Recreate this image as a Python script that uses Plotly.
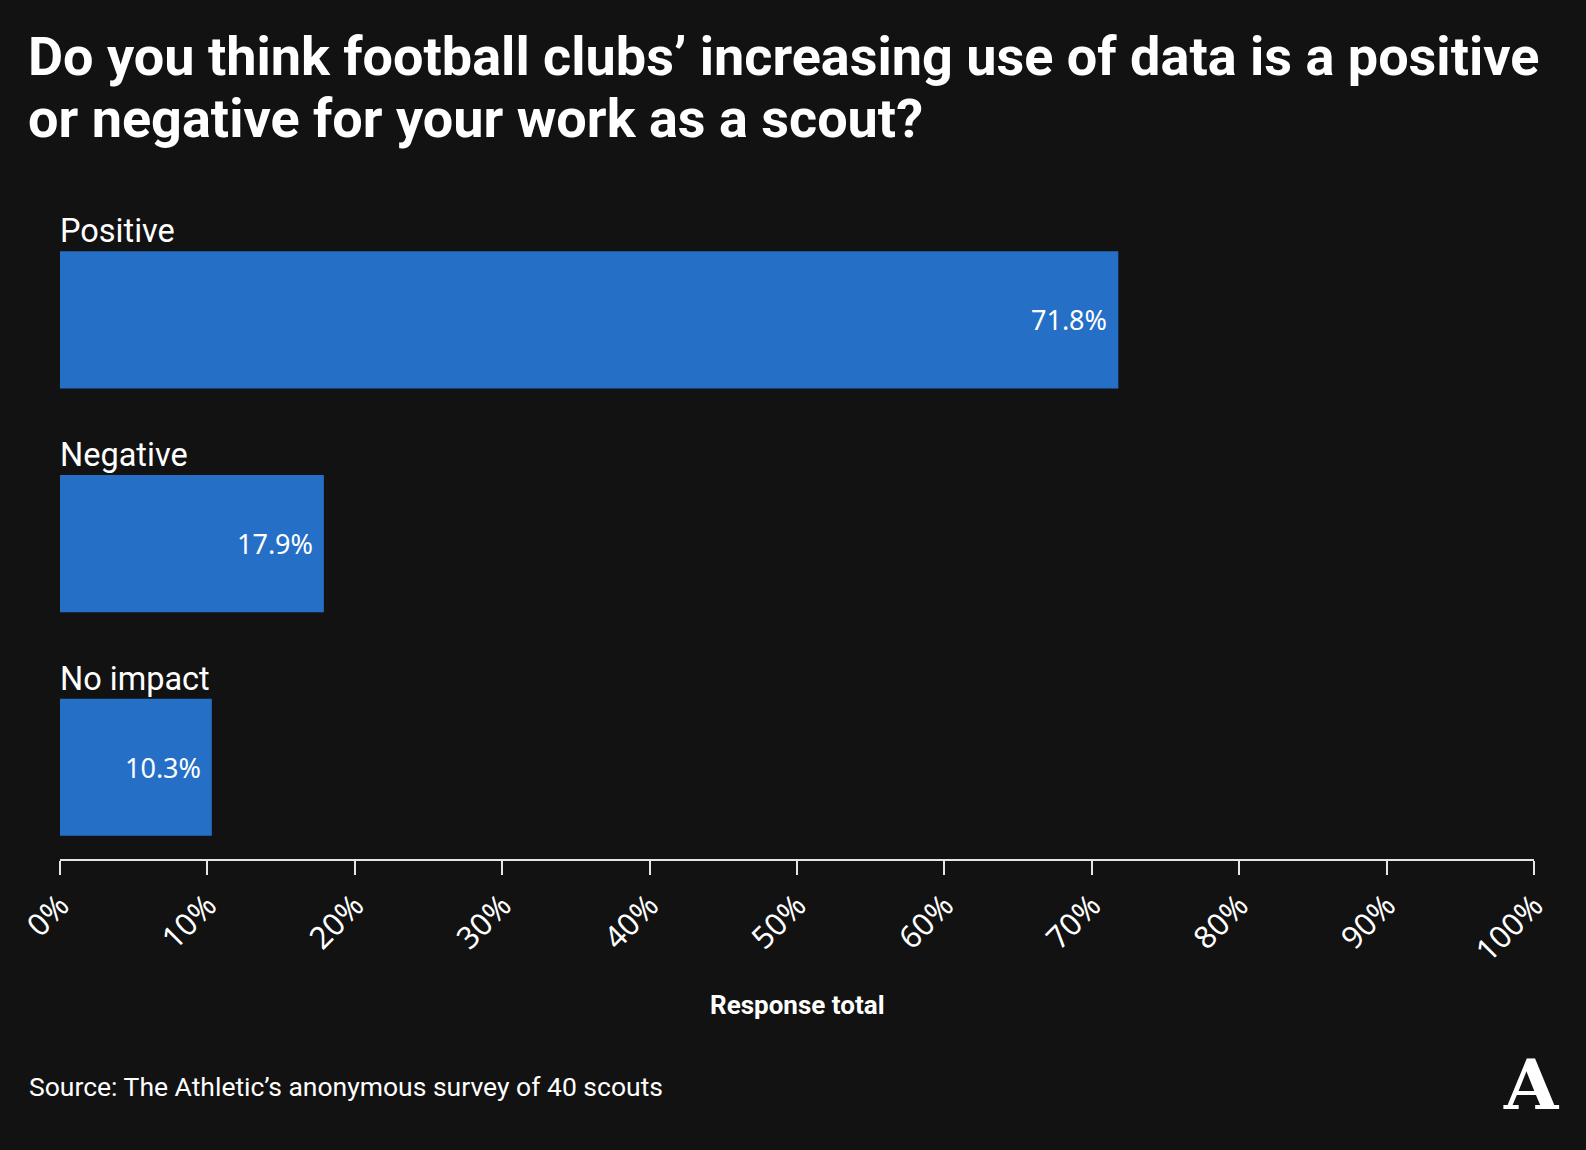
import plotly.graph_objects as go

categories = ["Positive", "Negative", "No impact"]
values = [71.8, 17.9, 10.3]
value_labels = ["71.8%", "17.9%", "10.3%"]
tick_vals = [0, 10, 20, 30, 40, 50, 60, 70, 80, 90, 100]
tick_text = [f"{v}%" for v in tick_vals]

title_lines = ["Do you think football clubs’ increasing use of data is a positive",
               "or negative for your work as a scout?"]
source_text = "Source: The Athletic’s anonymous survey of 40 scouts"
axis_title = "Response total"

BG = "#121212"
BAR = "#256fc6"
W, H = 1586, 1150
ML, MR, MT, MB = 60, 52, 208, 291
PH = H - MT - MB
PW = W - ML - MR


def py(pix):
    return (H - MB - pix) / PH


def px(pix):
    return (pix - ML) / PW


fig = go.Figure()
fig.add_trace(go.Bar(
    x=values, y=categories, orientation="h",
    marker=dict(color=BAR, line=dict(width=0)),
    hoverinfo="skip",
))

BARW = 0.613
annotations = []
for i, (c, v, lab) in enumerate(zip(categories, values, value_labels)):
    annotations.append(dict(
        x=0, y=i - BARW / 2, xref="x", yref="y", text=c, showarrow=False,
        xanchor="left", yanchor="bottom", yshift=-1, xshift=-2,
        font=dict(family="Roboto", size=32.5, color="white"),
    ))
    annotations.append(dict(
        x=v, y=i, xref="x", yref="y", text=lab, showarrow=False,
        xanchor="right", yanchor="middle", xshift=-9,
        font=dict(family="Noto Sans", size=27, color="white"),
    ))

for k, line in enumerate(title_lines):
    annotations.append(dict(
        x=px(26), y=py(23 + 62 * k), xref="paper", yref="paper", text=line,
        showarrow=False, xanchor="left", yanchor="top", align="left",
        font=dict(family="Roboto", size=54, color="white", weight="bold"),
    ))

annotations += [
    dict(x=px(797), y=py(1005), xref="paper", yref="paper", text=axis_title,
         showarrow=False, xanchor="center", yanchor="middle",
         font=dict(family="Roboto", size=26, color="white", weight="bold")),
    dict(x=px(27), y=py(1086), xref="paper", yref="paper", text=source_text,
         showarrow=False, xanchor="left", yanchor="middle",
         font=dict(family="Roboto", size=26.5, color="white")),
    dict(x=px(1531), y=py(1084), xref="paper", yref="paper", text="A",
         showarrow=False, xanchor="center", yanchor="middle",
         font=dict(family="DejaVu Serif", size=70, color="white", weight="bold")),
]

fig.update_layout(
    width=W, height=H,
    paper_bgcolor=BG, plot_bgcolor=BG,
    margin=dict(l=ML, r=MR, t=MT, b=MB, pad=0),
    bargap=1 - BARW,
    showlegend=False,
    annotations=annotations,
    xaxis=dict(
        range=[0, 100], tickvals=tick_vals, ticktext=tick_text,
        tickangle=-45, ticks="outside", ticklen=14, tickwidth=2,
        tickcolor="#e6e6e6", showline=True, linecolor="#e6e6e6", linewidth=2,
        showgrid=False, zeroline=False, automargin=False,
        tickfont=dict(family="Noto Sans", size=31, color="white"),
        fixedrange=True,
    ),
    yaxis=dict(
        categoryorder="array", categoryarray=categories,
        range=[2.41, -0.5], showticklabels=False, showgrid=False,
        zeroline=False, showline=False, ticks="", automargin=False,
        fixedrange=True,
    ),
)

fig.write_html(
    "out.html",
    config={"displayModeBar": False},
    post_script="document.body.style.margin='0';document.body.style.background='#121212';",
)
